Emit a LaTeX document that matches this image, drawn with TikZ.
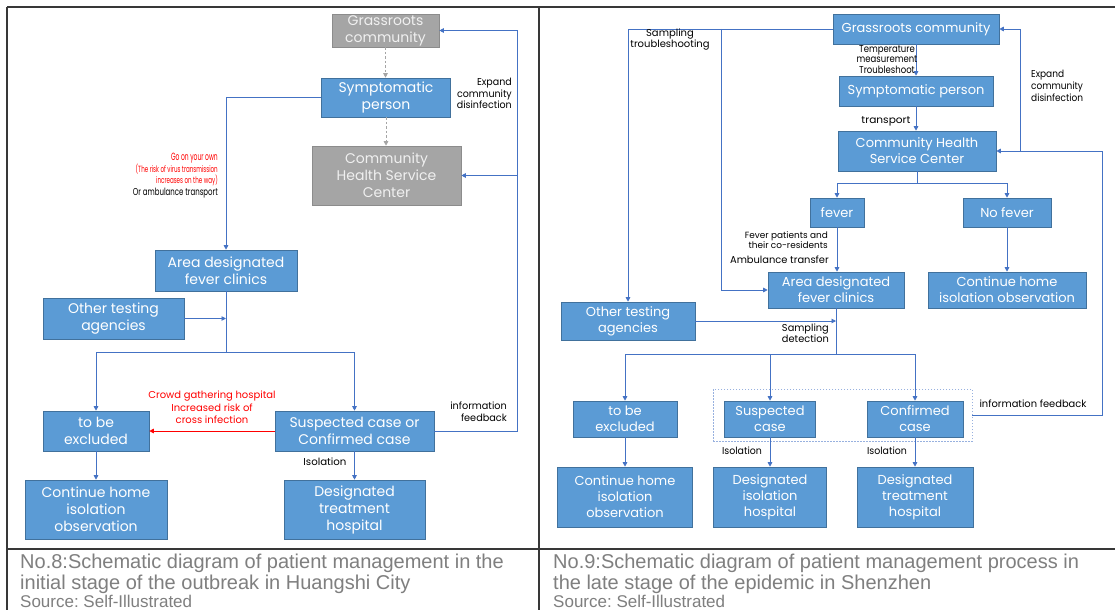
\documentclass[tikz,border=0pt]{standalone}
\usepackage{fontspec}
\usepackage{graphicx}
\setmainfont{Liberation Sans}
\newfontfamily\gothic{Poppins}
\usetikzlibrary{arrows.meta}
\definecolor{boxblue}{HTML}{5B9BD5}
\definecolor{boxedge}{HTML}{41719C}
\definecolor{boxgray}{HTML}{A5A5A5}
\definecolor{lineblue}{HTML}{4472C4}
\definecolor{capgray}{HTML}{7F7F7F}
\definecolor{framegray}{HTML}{383838}
\definecolor{redtxt}{HTML}{FF0000}
\newcommand{\sqz}[3]{\scalebox{#1}[1]{\begin{tabular}{@{}#2@{}}#3\end{tabular}}}
\newcommand{\fs}[2]{\fontsize{#1}{#2}\selectfont}
\frenchspacing
\begin{document}
\begin{tikzpicture}[x=1pt,y=-1pt,
  box/.style={draw=boxedge, line width=0.6pt, fill=boxblue, text=white, align=center, inner sep=0pt, font=\gothic\fontsize{14}{17}\selectfont},
  rbox/.style={box, font=\gothic\fontsize{13}{16}\selectfont},
  gbox/.style={box, fill=boxgray, draw=boxgray!85!black, text=white!94!black},
  conn/.style={draw=lineblue, line width=0.9pt, -{Triangle[length=4.5pt,width=4.5pt]}},
  plain/.style={draw=lineblue, line width=0.9pt},
  dconn/.style={draw=boxgray, line width=0.9pt, dash pattern=on 2.5pt off 2pt, -{Triangle[length=4.5pt,width=4.5pt]}},
  lab/.style={inner sep=0pt, font=\gothic\fontsize{10}{11.5}\selectfont},
  captext/.style={inner sep=0pt, anchor=base west, text=capgray, font=\fontsize{20}{21}\selectfont},
  srctext/.style={inner sep=0pt, anchor=base west, text=capgray, font=\fontsize{17}{18}\selectfont}]
\useasboundingbox (0,0) rectangle (1115,610);
\fill[white] (0,0) rectangle (1115,610);
% frame
\draw[framegray, line width=1.6pt] (7,7) -- (1115,7);
\draw[framegray, line width=1.6pt] (7,7) -- (7,610);
\draw[framegray, line width=1.6pt] (539,7) -- (539,610);
\draw[framegray, line width=1.6pt] (7,549) -- (1115,549);
% ---------------- left panel ----------------
\node[gbox, minimum width=107pt, minimum height=33pt] (G1) at (385.5,30.5) {Grassroots\\community};
\node[box, minimum width=129pt, minimum height=39pt] (S1) at (386,97.5) {Symptomatic\\person};
\node[gbox, minimum width=149pt, minimum height=59pt] (C1) at (386.5,175.5) {Community\\Health Service\\Center};
\node[box, minimum width=142pt, minimum height=41pt] (A1) at (226,270.5) {Area designated\\fever clinics};
\node[box, minimum width=141pt, minimum height=41pt] (O1) at (113.5,318.5) {Other testing\\agencies};
\node[box, minimum width=106pt, minimum height=40pt] (T1) at (96,431) {to be\\excluded};
\node[box, minimum width=159pt, minimum height=40pt] (SC1) at (354.5,431) {Suspected case or\\Confirmed case};
\node[box, minimum width=142pt, minimum height=59pt] (H1) at (96,509.5) {Continue home\\isolation\\observation};
\node[box, minimum width=141pt, minimum height=59pt] (D1) at (354.5,509.5) {Designated\\treatment\\hospital};
\coordinate (br1) at (226,352);
\coordinate (fb1) at (517,30.5);
\draw[dconn] (G1.south) -- (G1.south |- S1.north);
\draw[dconn] (S1.south) -- (S1.south |- C1.north);
\draw[conn] (S1.west) -| (A1.north);
\draw[plain] (A1.south) -- (br1);
\draw[conn] (br1) -| (T1.north);
\draw[conn] (br1) -| (SC1.north);
\draw[conn] (O1.east) -- (O1.east -| A1.south);
\draw[conn, draw=redtxt] (SC1.west) -- (T1.east);
\draw[conn] (T1.south) -- (H1.north);
\draw[conn] (SC1.south) -- (D1.north);
\draw[conn] (SC1.east) -| (fb1) -- (G1.east);
\draw[conn] (fb1 |- C1.east) -- (C1.east);
\node[lab, anchor=east] (l1) at (512,95) {\sqz{0.95}{r}{Expand\\community\\disinfection}};
\node[lab, anchor=east, text=redtxt] (l2a) at (218,158) {\fs{10.5}{11}\scalebox{0.57}[1]{Go on your own}};
\node[lab, anchor=east, text=redtxt] (l2b) at (218,175.5) {\fs{9}{11.5}\sqz{0.62}{r}{(The risk of virus transmission\\increases on the way)}};
\node[lab, anchor=east] (l2c) at (218,193) {\fs{10}{11}\scalebox{0.7}[1]{Or ambulance transport}};
\node[lab, text=redtxt] (l3) at (212,408.5) {\fs{10}{12.5}\sqz{1.0}{c}{Crowd gathering hospital\\Increased risk of\\cross infection}};
\node[lab, anchor=east] (l4) at (507,413) {\sqz{0.97}{r}{information\\feedback}};
\node[lab] (l5) at (325,463.5) {\sqz{1.02}{c}{Isolation}};
% ---------------- right panel ----------------
\node[rbox, minimum width=166pt, minimum height=30pt] (G2) at (916,29) {Grassroots community};
\node[rbox, minimum width=154pt, minimum height=30pt] (S2) at (916,91) {Symptomatic person};
\node[rbox, minimum width=158pt, minimum height=40pt] (C2) at (917,151) {Community Health\\Service Center};
\node[rbox, minimum width=54pt, minimum height=29pt] (fev) at (837,212.5) {fever};
\node[rbox, minimum width=88pt, minimum height=29pt] (nof) at (1007,212.5) {No fever};
\node[rbox, minimum width=136pt, minimum height=36pt] (A2) at (836,290) {Area designated\\fever clinics};
\node[rbox, minimum width=158pt, minimum height=36pt] (H2) at (1007,290) {Continue home\\isolation observation};
\node[rbox, minimum width=134pt, minimum height=38pt] (O2) at (628,321) {Other testing\\agencies};
\node[draw=lineblue!55, dash pattern=on 1.5pt off 1.5pt, line width=0.6pt, minimum width=259pt, minimum height=52pt, inner sep=0pt] (grp) at (842.5,415) {};
\node[rbox, minimum width=104pt, minimum height=36pt] (tb2) at (625,419) {to be\\excluded};
\node[rbox, minimum width=91pt, minimum height=36pt] (su2) at (770,419) {Suspected\\case};
\node[rbox, minimum width=96pt, minimum height=36pt] (cf2) at (915,419) {Confirmed\\case};
\node[rbox, minimum width=135pt, minimum height=60pt] (H3) at (625,497) {Continue home\\isolation\\observation};
\node[rbox, minimum width=113pt, minimum height=60pt] (DI) at (770,497) {Designated\\isolation\\hospital};
\node[rbox, minimum width=116pt, minimum height=60pt] (DT) at (915,497) {Designated\\treatment\\hospital};
\coordinate (br2) at (917,183);
\coordinate (lt) at (628,29);
\coordinate (mid) at (721,29);
\coordinate (br3) at (836,354);
\coordinate (fb2) at (1102,151);
\coordinate (ex2) at (1020,151);
\draw[conn] (G2.south) -- (S2.north);
\draw[conn] (S2.south) -- (S2.south |- C2.north);
\draw[plain] (C2.south) -- (br2);
\draw[conn] (br2) -| (fev.north);
\draw[conn] (br2) -| (nof.north);
\draw[conn] (fev.south) -- (fev.south |- A2.north);
\draw[conn] (nof.south) -- (H2.north);
\draw[conn] (G2.west) -- (lt) -- (O2.north);
\draw[conn] (mid) |- (A2.west);
\draw[conn] (O2.east) -- (O2.east -| A2.south);
\draw[plain] (A2.south) -- (br3);
\draw[conn] (br3) -| (tb2.north);
\draw[conn] (br3) -| (su2.north);
\draw[conn] (br3) -| (cf2.north);
\draw[conn] (tb2.south) -- (H3.north);
\draw[conn] (su2.south) -- (DI.north);
\draw[conn] (cf2.south) -- (DT.north);
\draw[conn] (grp.east) -| (fb2) -- (C2.east);
\draw[conn] (ex2) |- (G2.east);
\node[lab] (r1) at (887,60.5) {\fs{10}{10.5}\sqz{0.85}{c}{Temperature\\measurement\\Troubleshoot}};
\node[lab] (r2) at (886,121) {\sqz{1.06}{c}{transport}};
\node[lab, anchor=west] (r3) at (1031,87) {\fs{10}{12}\sqz{0.9}{l}{Expand\\community\\disinfection}};
\node[lab] (r4) at (670,40) {\fs{10}{10.5}\sqz{1.0}{c}{Sampling\\troubleshooting}};
\node[lab, anchor=east] (r5) at (828,241.5) {\fs{9}{10}\sqz{0.99}{r}{Fever patients and\\their co-residents}};
\node[lab, anchor=east] (r6) at (829,261) {\sqz{0.99}{r}{Ambulance transfer}};
\node[lab, anchor=east] (r7) at (829,335) {\fs{10}{10.5}\sqz{0.98}{r}{Sampling\\detection}};
\node[lab] (r8) at (742,452) {\sqz{0.94}{c}{Isolation}};
\node[lab] (r9) at (887,452) {\sqz{0.94}{c}{Isolation}};
\node[lab] (r10) at (1033,405) {\sqz{0.99}{c}{information feedback}};
% captions
\node[captext] (c1) at (20,568) {No.8:Schematic diagram of patient management in the};
\node[captext] (c2) at (20,589) {initial stage of the outbreak in Huangshi City};
\node[srctext] (c3) at (20,607.5) {Source: Self-Illustrated};
\node[captext] (c4) at (553,568) {No.9:Schematic diagram of patient management process in};
\node[captext] (c5) at (553,589) {the late stage of the epidemic in Shenzhen};
\node[srctext] (c6) at (553,607.5) {Source: Self-Illustrated};
\end{tikzpicture}
\end{document}
